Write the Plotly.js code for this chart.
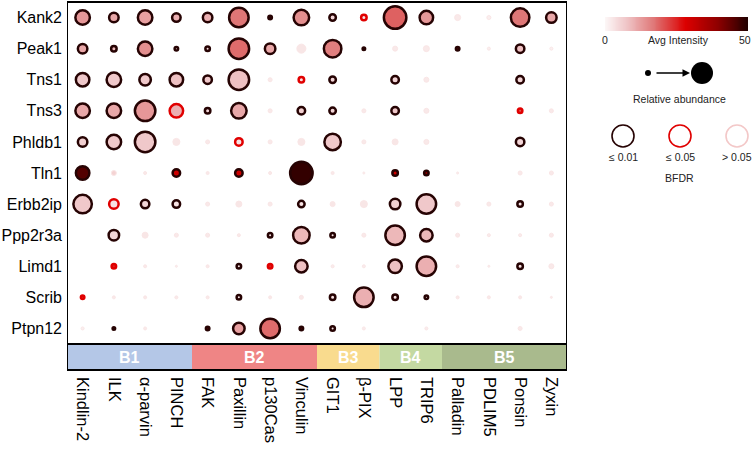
<!DOCTYPE html>
<html><head><meta charset="utf-8">
<script src="https://cdn.plot.ly/plotly-3.0.1.min.js"></script>
<style>html,body{margin:0;padding:0;background:#fff}</style>
</head><body><div id="chart" style="width:753px;height:450px"></div>
<script>
const preys = ["Kank2","Peak1","Tns1","Tns3","Phldb1","Tln1","Erbb2ip","Ppp2r3a","Limd1","Scrib","Ptpn12"];
const baits = ["Kindlin-2","ILK","α-parvin","PINCH","FAK","Paxillin","p130Cas","Vinculin","GIT1","β-PIX","LPP","TRIP6","Palladin","PDLIM5","Ponsin","Zyxin"];
const groups = ["B1","B2","B3","B4","B5"];
const groupSpan = [[0,3],[4,7],[8,9],[10,11],[12,15]];
const groupColors = ["#b4c7e7","#ef8585","#f9db8e","#c4d9a2","#a9ba8d"];

// relative abundance (dot diameter, px)
const abundance = [
 [17,12,17,11,12,22,6,18,9,8,25,16,7,5,21,13],
 [12,8,17,6,7,23,13,10,20,5,6,7,6,4,11,4],
 [16,17,14,16,11,23,5,8,9,null,10,6,null,null,10,null],
 [17,17,23,16,8,18,5,10,9,5,10,6,null,null,7,5],
 [12,17,23,8,5,10,5,8,19,5,7,6,null,null,11,null],
 [16,6,4,10,4,10,4,25,4,3,8,7,3,null,5,5],
 [21,12,11,10,5,7,5,9,6,8,13,22,6,5,8,5],
 [null,13,7,5,5,4,7,19,7,5,22,15,5,4,4,5],
 [null,7,4,3,4,7,7,15,4,4,16,22,4,3,8,6],
 [6,4,4,4,4,7,4,5,8,22,8,6,4,4,4,3],
 [4,5,4,null,6,14,22,6,7,4,null,4,null,null,5,null]
];
// average intensity (0-50)
const intensity = [
 [13,11,12,10,10,17,48,14,5,3,19,13,6,4,17,11],
 [11,9,14,5,5,18,11,7,16,5,6,6,45,4,8,3],
 [7,7,7,8,7,8,6,3,5,null,5,6,null,null,5,null],
 [11,11,13,10,5,11,6,6,5,6,7,6,null,null,20,6],
 [6,7,7,7,6,3,6,7,7,6,7,6,null,null,5,null],
 [45,12,6,30,6,30,6,48,6,4,30,40,4,null,6,6],
 [7,3,5,3,6,7,6,3,7,7,6,7,7,6,3,6],
 [null,5,7,6,6,6,3,9,3,6,9,9,6,5,5,6],
 [null,25,6,4,6,3,25,8,5,5,8,10,5,4,3,6],
 [25,6,6,6,6,3,6,6,3,10,3,3,6,6,6,5],
 [4,45,6,null,45,12,18,45,3,5,null,5,null,null,6,null]
];
// BFDR class: 0 = ≤0.01, 1 = ≤0.05, 2 = >0.05
const bfdr = [
 [0,0,0,0,0,0,0,0,0,1,0,0,2,2,0,0],
 [0,0,0,0,0,0,0,2,0,0,2,2,0,2,0,2],
 [0,0,0,0,0,0,2,1,0,null,0,2,null,null,0,null],
 [0,0,0,1,0,0,2,0,0,2,0,2,null,null,1,2],
 [0,0,0,2,2,1,2,2,0,2,2,2,null,null,0,null],
 [0,2,2,0,2,0,2,0,2,2,0,0,2,null,2,2],
 [0,1,0,0,2,2,2,0,2,2,0,0,2,2,0,2],
 [null,0,2,2,2,2,0,0,0,2,0,0,2,2,2,2],
 [null,1,2,2,2,0,1,0,2,2,0,0,2,2,0,2],
 [1,2,2,2,2,0,2,2,0,0,0,0,2,2,2,2],
 [2,0,2,null,0,0,0,0,0,2,null,2,null,null,2,null]
];
const bfdrLabels = ["≤ 0.01","≤ 0.05","> 0.05"];
const intensityRange = [0, 50];

const borderCol = ["#260303","#e00000","#f3c8c8"];
const borderW = [2.5,2.5,1];
const opac = [1,1,0.45];
const cscale = [[0,"#fcf6f6"],[0.14,"#f0c8ca"],[0.34,"#df7676"],[0.56,"#dc0000"],[0.8,"#880000"],[1,"#1e0000"]];

const X=[],Y=[],S=[],C=[],LC=[],LW=[],OP=[];
preys.forEach((p,i)=>baits.forEach((b,j)=>{
  const s=abundance[i][j]; if(s==null) return;
  const k=bfdr[i][j];
  X.push(b);Y.push(p);
  LW.push(borderW[k]); S.push(Math.max(1,s-borderW[k]));
  C.push(intensity[i][j]); LC.push(borderCol[k]); OP.push(opac[k]);
}));

const plotH = 368, plotW = 686, bandH = 26;
const bandFrac = bandH/plotH;
const mainFrac = 500/plotW;

// gradient bar for the intensity legend
const gradSteps = [];
for(let v=intensityRange[0]; v<=intensityRange[1]; v++) gradSteps.push(v);

const traces=[{
  type:"scatter",mode:"markers",x:X,y:Y,xaxis:"x",yaxis:"y",hoverinfo:"none",
  marker:{size:S,color:C,cmin:intensityRange[0],cmax:intensityRange[1],colorscale:cscale,opacity:OP,
    line:{color:LC,width:LW},showscale:false}
},{
  type:"heatmap",xaxis:"x3",yaxis:"y3",z:[gradSteps],x:gradSteps,y:[0],
  zmin:intensityRange[0],zmax:intensityRange[1],colorscale:cscale,showscale:false,zsmooth:"best",hoverinfo:"none"
}];

const shapes=[], annotations=[];
groups.forEach((g,i)=>{
  const [a,b]=groupSpan[i];
  shapes.push({type:"rect",xref:"x",yref:"paper",x0:a-0.5,x1:b+0.5,y0:0,y1:bandFrac,fillcolor:groupColors[i],line:{width:0},layer:"below"});
  annotations.push({xref:"x",yref:"paper",x:(a+b)/2,y:bandFrac/2,yanchor:"middle",text:"<b>"+g+"</b>",showarrow:false,font:{family:"Arial, Liberation Sans",size:16,color:"#fff"}});
});
// frame
shapes.push({type:"rect",xref:"x",yref:"paper",x0:-0.5,x1:15.5,y0:0,y1:1,line:{color:"#000",width:2},fillcolor:"rgba(0,0,0,0)"});
shapes.push({type:"line",xref:"x",yref:"paper",x0:-0.5,x1:15.5,y0:bandFrac,y1:bandFrac,line:{color:"#000",width:2}});

// legend (pixel-scaled axes x2/y2)
const lf={family:"Arial, Liberation Sans",size:10.5,color:"#222"};
annotations.push({xref:"x2",yref:"y2",x:605,y:40,text:String(intensityRange[0]),showarrow:false,font:lf});
annotations.push({xref:"x2",yref:"y2",x:745,y:40,text:String(intensityRange[1]),showarrow:false,font:lf});
annotations.push({xref:"x2",yref:"y2",x:678,y:40,text:"Avg Intensity",showarrow:false,font:lf});
shapes.push({type:"circle",xref:"x2",yref:"y2",x0:645,x1:651,y0:70,y1:76,fillcolor:"#000",line:{width:0}});
shapes.push({type:"circle",xref:"x2",yref:"y2",x0:691,x1:713,y0:62,y1:84,fillcolor:"#000",line:{width:0}});
annotations.push({xref:"x2",yref:"y2",axref:"x2",ayref:"y2",x:690,y:73,ax:655,ay:73,text:"",showarrow:true,arrowhead:2,arrowsize:1,arrowwidth:1.5,arrowcolor:"#000"});
annotations.push({xref:"x2",yref:"y2",x:679,y:99,text:"Relative abundance",showarrow:false,font:lf});
const bx=[623,680,737];
bfdrLabels.forEach((t,k)=>{
  shapes.push({type:"circle",xref:"x2",yref:"y2",x0:bx[k]-11,x1:bx[k]+11,y0:125,y1:147,fillcolor:"#fff",line:{color:borderCol[k],width:1.6}});
  annotations.push({xref:"x2",yref:"y2",x:bx[k],y:157,text:t,showarrow:false,font:lf});
});
annotations.push({xref:"x2",yref:"y2",x:679,y:178,text:"BFDR",showarrow:false,font:lf});

const layout={
  width:753,height:450,margin:{l:67,r:0,t:2,b:80,autoexpand:false},
  paper_bgcolor:"#fff",plot_bgcolor:"rgba(0,0,0,0)",showlegend:false,
  font:{family:"Arial, Liberation Sans",color:"#000"},
  xaxis:{domain:[0,mainFrac],type:"category",categoryarray:baits,range:[-0.5,15.5],anchor:"free",position:0,
    showgrid:false,zeroline:false,showline:false,ticks:"",tickangle:90,ticklabelstandoff:6,automargin:false,
    tickfont:{size:16.5,color:"#000"},fixedrange:true},
  yaxis:{domain:[bandFrac,1],type:"category",categoryarray:preys,range:[10.5,-0.5],automargin:false,
    showgrid:false,zeroline:false,showline:false,ticks:"",ticklabelstandoff:4,
    tickfont:{size:16,color:"#000"},fixedrange:true},
  xaxis2:{domain:[mainFrac,1],range:[567,753],anchor:"y2",visible:false,fixedrange:true},
  yaxis2:{domain:[0,1],range:[370,2],anchor:"x2",visible:false,fixedrange:true},
  xaxis3:{domain:[(605-67)/plotW,(748-67)/plotW],range:[intensityRange[0],intensityRange[1]],anchor:"y3",visible:false,fixedrange:true},
  yaxis3:{domain:[1-(31-2)/plotH,1-(17-2)/plotH],range:[-0.5,0.5],anchor:"x3",visible:false,fixedrange:true},
  shapes:shapes,annotations:annotations
};
Plotly.newPlot("chart",traces,layout,{staticPlot:true,displayModeBar:false});
</script></body></html>
